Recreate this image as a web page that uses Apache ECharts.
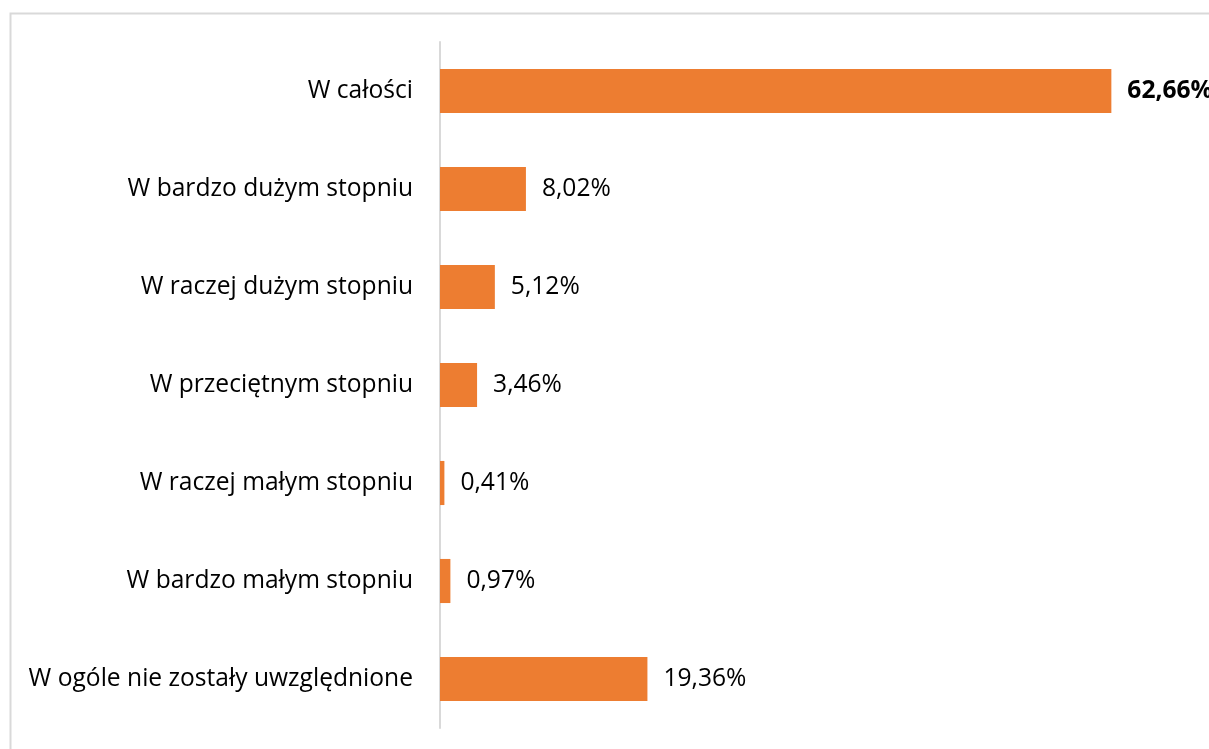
<!DOCTYPE html>
<html>
<head>
<meta charset="utf-8">
<style>
  html, body { margin: 0; padding: 0; background: #fff; }
  #chart { width: 1209px; height: 749px; }
</style>
<script src="https://cdn.jsdelivr.net/npm/echarts@6/dist/echarts.min.js"></script>
</head>
<body>
<div id="chart"></div>
<script>
var categories = [
  'W całości',
  'W bardzo dużym stopniu',
  'W raczej dużym stopniu',
  'W przeciętnym stopniu',
  'W raczej małym stopniu',
  'W bardzo małym stopniu',
  'W ogóle nie zostały uwzględnione'
];
var values = [62.66, 8.02, 5.12, 3.46, 0.41, 0.97, 19.36];
var boldIndex = 0;

var myChart = echarts.init(document.getElementById('chart'));

var option = {
  animation: false,
  textStyle: { fontFamily: 'Open Sans' },
  graphic: [{
    type: 'rect',
    shape: { x: 10.5, y: 13.5, width: 1300, height: 800 },
    style: { fill: 'none', stroke: '#d9d9d9', lineWidth: 2 },
    silent: true
  }],
  grid: { left: 440, top: 42, width: 750, height: 686 },
  xAxis: {
    type: 'value',
    min: 0,
    max: 70,
    show: false
  },
  yAxis: {
    type: 'category',
    inverse: true,
    data: categories,
    axisLine: { show: true, lineStyle: { color: '#d9d9d9', width: 2 } },
    axisTick: { show: false },
    axisLabel: { color: '#000', fontSize: 24.6, margin: 27 }
  },
  series: [{
    type: 'bar',
    data: values.map(function (v, i) {
      return {
        value: v,
        label: { fontWeight: i === boldIndex ? 'bold' : 'normal' }
      };
    }),
    barCategoryGap: '55%',
    itemStyle: { color: '#ED7D31' },
    label: {
      show: true,
      position: 'right',
      distance: 16,
      color: '#000',
      fontSize: 24.6,
      formatter: function (p) {
        return p.value.toFixed(2).replace('.', ',') + '%';
      }
    }
  }]
};

myChart.setOption(option);
</script>
</body>
</html>
